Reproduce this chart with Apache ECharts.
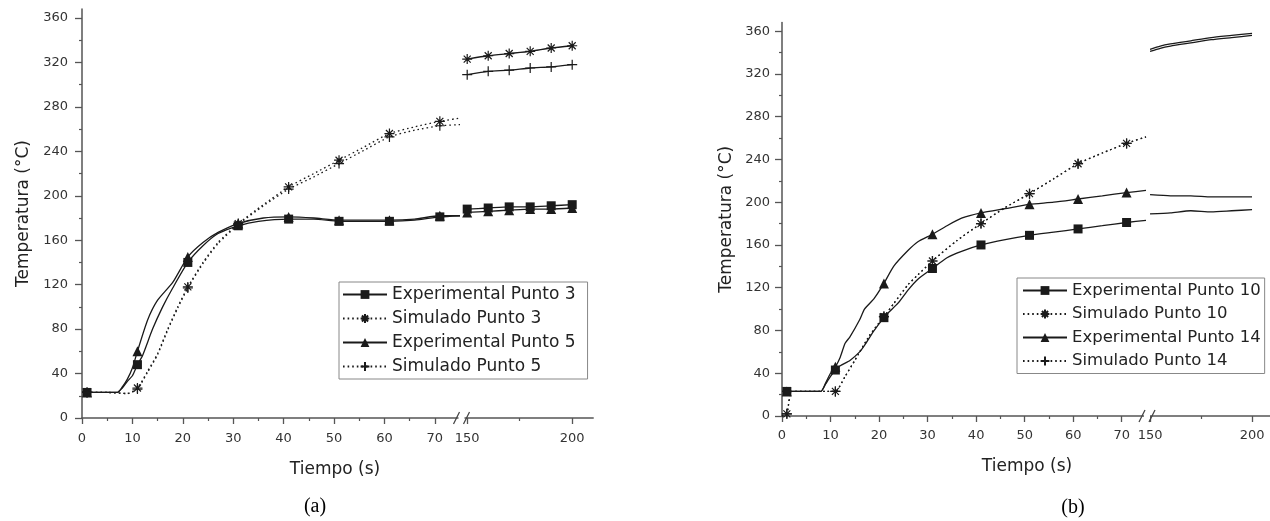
<!DOCTYPE html>
<html><head><meta charset="utf-8">
<script src="https://cdn.jsdelivr.net/npm/echarts@6/dist/echarts.min.js"></script>
<style>html,body{margin:0;padding:0;background:#fff}#c{width:1270px;height:521px}</style>
</head><body><div id="c"></div>
<script>
// ---------- tick labels ----------
const xTicksMain = [0,10,20,30,40,50,60,70];
const xTicksMainMinor = [5,15,25,35,45,55,65];
const xTicksTail = [150,200];
const xTicksTailMinor = [175];
const yTicks = [0,40,80,120,160,200,240,280,320,360];
const yTicksMinor = [20,60,100,140,180,220,260,300,340];
const markTimesMain = [1,11,21,31,41,51,61,71];
const markTimesTail = [150,160,170,180,190,200];

// ---------- panel (a) ----------
const namesA = ['Experimental Punto 3','Simulado Punto 3','Experimental Punto 5','Simulado Punto 5'];
const aExp3 = [[0,23],[1,23],[4,23],[7,23],[8,27],[9,33],[10,38],[11,48],[12,56],[14,80],[16,100],[18,117],[21,140],[24,155],[27,166],[31,173],[35,177],[41,179],[46,179],[51,177],[56,177],[61,177],[66,178],[71,181],[75,182]];
const aSim3 = [[0,23],[1,23],[5,23],[9,22],[11,27],[13,42],[15,58],[17,80],[19,100],[21,118],[24,140],[27,158],[31,175],[36,192],[41,208],[46,220],[51,232],[56,244],[61,256],[66,262],[71,267],[75,270]];
const aExp5 = [[0,23],[1,23],[4,23],[7,23],[8,28],[9,35],[10,45],[11,60],[13,88],[15,106],[18,122],[21,145],[24,158],[27,167],[31,175],[36,180],[41,181],[46,180],[51,178],[56,178],[61,178],[66,179],[71,182],[75,182]];
const aSim5 = [[0,23],[1,23],[5,23],[9,22],[11,26],[13,41],[15,57],[17,79],[19,99],[21,117],[24,139],[27,157],[31,174],[36,191],[41,206],[46,217],[51,229],[56,241],[61,253],[66,259],[71,263],[75,264]];
const aExp3Tail = [[150,188],[160,189],[170,190],[180,190],[190,191],[200,192]];
const aSim3Tail = [[150,323],[160,326],[170,328],[180,330],[190,333],[200,335]];
const aExp5Tail = [[150,185],[160,186],[170,187],[180,188],[190,188],[200,189]];
const aSim5Tail = [[150,309],[160,312],[170,313],[180,315],[190,316],[200,318]];

// ---------- panel (b) ----------
const namesB = ['Experimental Punto 10','Simulado Punto 10','Experimental Punto 14','Simulado Punto 14'];
const bExp10 = [[0,23],[1,23],[4,23],[8,23],[9,30],[10,37],[11,43],[12,47],[14,52],[16,60],[17,66],[19,80],[21,92],[22,97],[24,106],[26,118],[28,128],[31,138],[34,148],[37,154],[41,160],[46,165],[51,169],[56,172],[61,175],[66,178],[71,181],[75,183]];
const bSim10 = [[0,0],[1,2],[2,23],[5,23],[9,23],[11,23],[13,37],[15,52],[18,75],[21,93],[23,105],[26,123],[28,132],[31,145],[36,164],[41,180],[46,195],[51,208],[56,222],[61,236],[66,246],[71,255],[75,261]];
const bExp14 = [[0,23],[1,23],[4,23],[8,23],[9,31],[10,40],[11,46],[12,55],[13,68],[14,74],[16,90],[17,100],[19,110],[21,124],[23,140],[26,155],[28,163],[31,170],[34,178],[37,185],[41,190],[46,194],[51,198],[56,200],[61,203],[66,206],[71,209],[75,211]];
const bSim14 = [[0,0],[1,2],[2,23],[5,23],[9,23],[11,23],[13,37],[15,52],[18,75],[21,93],[23,105],[26,123],[28,132],[31,145],[36,164],[41,180],[46,195],[51,208],[56,222],[61,236],[66,246],[71,255],[75,261]];
const bExp10Tail = [[150,189],[160,190],[170,192],[180,191],[190,192],[200,193]];
const bSim10Tail = [[150,343],[155,346],[160,348],[170,351],[180,354],[190,356],[200,358]];
const bExp14Tail = [[150,207],[160,206],[170,206],[180,205],[190,205],[200,205]];
const bSim14Tail = [[150,341],[155,344],[160,346],[170,349],[180,352],[190,354],[200,356]];

// ---------- styling ----------
const INK = '#1a1a1a';
const AX = '#555';
const FONT = 'DejaVu Sans';
const SYM_AST = 'path://M0,5L10,5M5,0L5,10M1.5,1.5L8.5,8.5M8.5,1.5L1.5,8.5';
const SYM_PLUS = 'path://M0,5L10,5M5,0L5,10';

const chart = echarts.init(document.getElementById('c'), null, {renderer: 'canvas'});

function grid(left, top, width, height) {
  return {left, top, width, height, containLabel: false, outerBoundsMode: 'none'};
}
function xMajor(gi, min, max, labels, margin) {
  return {type: 'value', gridIndex: gi, min, max, position: 'bottom',
    axisLine: {show: true, onZero: false, lineStyle: {color: AX, width: 1.5}},
    axisTick: {show: true, customValues: labels, length: 6, lineStyle: {color: AX, width: 1.3}},
    axisLabel: {show: true, customValues: labels, margin: margin, color: '#333', fontFamily: FONT, fontSize: 13},
    splitLine: {show: false}};
}
function xMinor(gi, min, max, ticks) {
  return {type: 'value', gridIndex: gi, min, max, position: 'bottom',
    axisLine: {show: false, onZero: false},
    axisTick: {show: true, customValues: ticks, length: 3, lineStyle: {color: AX, width: 1.2}},
    axisLabel: {show: false}, splitLine: {show: false}};
}
function yMajor(gi, margin, nameGap) {
  return {type: 'value', gridIndex: gi, min: 0, max: 368, position: 'left',
    name: 'Temperatura (°C)', nameLocation: 'middle', nameGap: nameGap,
    nameTextStyle: {fontFamily: FONT, fontSize: 17, color: '#222'},
    axisLine: {show: true, onZero: false, lineStyle: {color: AX, width: 1.5}},
    axisTick: {show: true, customValues: yTicks, length: 7, lineStyle: {color: AX, width: 1.3}},
    axisLabel: {show: true, customValues: yTicks, margin: margin, color: '#333', fontFamily: FONT, fontSize: 13},
    splitLine: {show: false}};
}
function yMinor(gi) {
  return {type: 'value', gridIndex: gi, min: 0, max: 368, position: 'left',
    axisLine: {show: false, onZero: false},
    axisTick: {show: true, customValues: yTicksMinor, length: 3, lineStyle: {color: AX, width: 1.2}},
    axisLabel: {show: false}, splitLine: {show: false}};
}
function yHidden(gi) {
  return {type: 'value', gridIndex: gi, min: 0, max: 368, show: false};
}

function ser(name, data, xi, yi, sym, size, dotted, marks) {
  const isPath = sym.indexOf('path://') === 0;
  return {
    type: 'line', name, data, xAxisIndex: xi, yAxisIndex: yi,
    smooth: 0.2, symbol: sym, showSymbol: true, showAllSymbol: true,
    symbolSize: (v) => (marks && marks.indexOf(v[0]) >= 0) ? size : 0,
    lineStyle: {color: INK, width: 1.3, type: dotted ? [1.6, 3] : 'solid'},
    itemStyle: {color: INK, borderColor: INK, borderWidth: isPath ? 1.2 : 0},
    emphasis: {disabled: true}, silent: true, z: 3
  };
}

const series = [
  ser(namesA[0], aExp3, 0, 0, 'rect', 9, false, markTimesMain),
  ser(namesA[1], aSim3, 0, 0, SYM_AST, 10, true, markTimesMain),
  ser(namesA[2], aExp5, 0, 0, 'triangle', 10, false, markTimesMain),
  ser(namesA[3], aSim5, 0, 0, SYM_PLUS, 10, true, markTimesMain),
  ser(namesA[0], aExp3Tail, 2, 2, 'rect', 9, false, markTimesTail),
  ser(namesA[1], aSim3Tail, 2, 2, SYM_AST, 10, false, markTimesTail),
  ser(namesA[2], aExp5Tail, 2, 2, 'triangle', 10, false, markTimesTail),
  ser(namesA[3], aSim5Tail, 2, 2, SYM_PLUS, 10, false, markTimesTail),
  ser(namesB[0], bExp10, 4, 3, 'rect', 9, false, markTimesMain),
  ser(namesB[1], bSim10, 4, 3, SYM_AST, 10, true, markTimesMain),
  ser(namesB[2], bExp14, 4, 3, 'triangle', 10, false, markTimesMain),
  ser(namesB[3], bSim14, 4, 3, SYM_PLUS, 10, true, markTimesMain),
  ser(namesB[0], bExp10Tail, 6, 5, 'rect', 9, false, null),
  ser(namesB[1], bSim10Tail, 6, 5, SYM_AST, 10, false, null),
  ser(namesB[2], bExp14Tail, 6, 5, 'triangle', 10, false, null),
  ser(namesB[3], bSim14Tail, 6, 5, SYM_PLUS, 10, false, null)
];

const legendBase = {
  orient: 'vertical', itemWidth: 44, itemHeight: 11, selectedMode: false,
  borderColor: '#888', borderWidth: 1, backgroundColor: '#fff'
};

const option = {
  animation: false,
  backgroundColor: '#fff',
  grid: [
    grid(82, 9.1, 378, 408.9),
    grid(463, 9.1, 130.2, 408.9),
    grid(782, 22.6, 364, 393.4),
    grid(1148, 22.6, 122.4, 393.4)
  ],
  xAxis: [
    xMajor(0, 0, 75, xTicksMain, 14), xMinor(0, 0, 75, xTicksMainMinor),
    xMajor(1, 148, 210, xTicksTail, 14), xMinor(1, 148, 210, xTicksTailMinor),
    xMajor(2, 0, 75, xTicksMain, 13), xMinor(2, 0, 75, xTicksMainMinor),
    xMajor(3, 149, 209, xTicksTail, 13), xMinor(3, 149, 209, xTicksTailMinor)
  ],
  yAxis: [
    yMajor(0, 14, 50), yMinor(0), yHidden(1),
    yMajor(2, 12, 47), yMinor(2), yHidden(3)
  ],
  legend: [
    Object.assign({}, legendBase, {data: namesA, left: 339, top: 282, itemGap: 7, padding: [4, 12, 4, 3],
      textStyle: {fontFamily: FONT, fontSize: 17, color: '#222'}}),
    Object.assign({}, legendBase, {data: namesB, left: 1017, top: 278, itemGap: 6.5, padding: [4, 4, 4, 5],
      textStyle: {fontFamily: FONT, fontSize: 16.5, color: '#222'}})
  ],
  series
};
chart.setOption(option);

function breakMark(xiEnd, endVal, xiStart, startVal, yi) {
  const ax = chart.convertToPixel({xAxisIndex: xiEnd}, endVal);
  const bx = chart.convertToPixel({xAxisIndex: xiStart}, startVal);
  const y = chart.convertToPixel({yAxisIndex: yi}, 0);
  const mx = (ax + bx) / 2;
  return [
    {type: 'rect', shape: {x: mx - 3, y: y - 3, width: 6, height: 6}, style: {fill: '#fff'}, z: 100},
    {type: 'line', shape: {x1: mx - 8, y1: y + 6, x2: mx - 2, y2: y - 6}, style: {stroke: '#444', lineWidth: 1.3}, z: 101},
    {type: 'line', shape: {x1: mx + 2, y1: y + 6, x2: mx + 8, y2: y - 6}, style: {stroke: '#444', lineWidth: 1.3}, z: 101}
  ];
}
function label(text, x, y, font, size, color) {
  return {type: 'text', x, y, z: 100,
    style: {text, fontFamily: font, fontSize: size, fill: color,
      align: 'center', verticalAlign: 'middle', textAlign: 'center', textVerticalAlign: 'middle'}};
}
let marks = [];
try {
  marks = marks.concat(breakMark(0, 75, 2, 148, 0), breakMark(4, 75, 6, 149, 3));
} catch (e) { console.log(e); }
chart.setOption({
  graphic: {elements: marks.concat([
    label('Tiempo (s)', 335, 470, FONT, 17, '#222'),
    label('Tiempo (s)', 1027, 467, FONT, 17, '#222'),
    label('(a)', 315, 507, 'Liberation Serif', 20, '#000'),
    label('(b)', 1073, 508, 'Liberation Serif', 20, '#000')
  ])}
});
</script>
</body></html>
